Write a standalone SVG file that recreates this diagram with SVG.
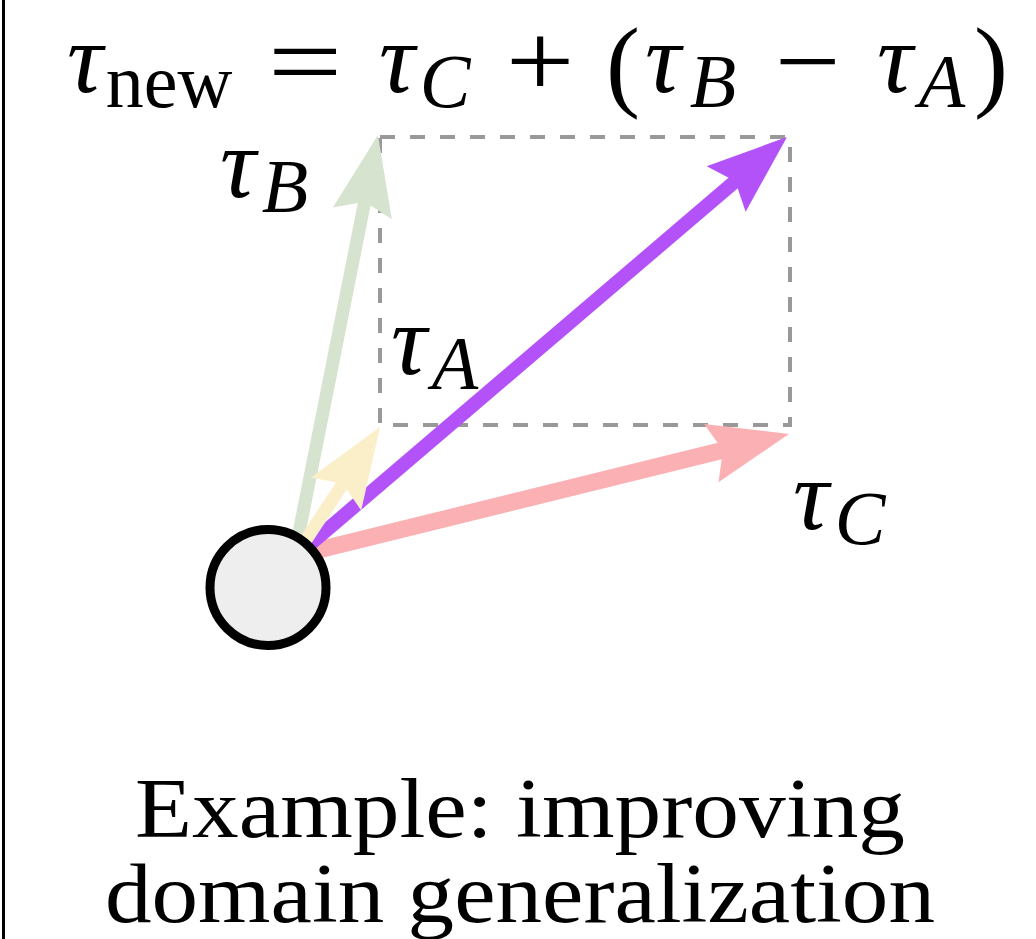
<svg xmlns="http://www.w3.org/2000/svg" width="1036" height="939" viewBox="0 0 1036 939">
<style>
.m{font-family:"Liberation Serif","Times New Roman",serif;fill:#000}
.i{font-style:italic}
.big{font-size:100px}
.op{font-size:106px}
.par{font-size:102px}
.sub{font-size:76px}
.cap{font-size:84px}
.shaft{fill:none;stroke-linecap:butt}
</style>
<defs>
<marker id="hG" markerUnits="userSpaceOnUse" orient="auto" refX="0" refY="0" markerWidth="10" markerHeight="10" overflow="visible"><path d="M66,0 L-14,-30 L-2,0 L-14,30 Z" fill="#d6e4cf"/></marker>
<marker id="hY" markerUnits="userSpaceOnUse" orient="auto" refX="0" refY="0" markerWidth="10" markerHeight="10" overflow="visible"><path d="M66,0 L-14,-30 L-2,0 L-14,30 Z" fill="#faefc9"/></marker>
<marker id="hP" markerUnits="userSpaceOnUse" orient="auto" refX="0" refY="0" markerWidth="10" markerHeight="10" overflow="visible"><path d="M66,0 L-14,-30 L-2,0 L-14,30 Z" fill="#b452fa"/></marker>
<marker id="hR" markerUnits="userSpaceOnUse" orient="auto" refX="0" refY="0" markerWidth="10" markerHeight="10" overflow="visible"><path d="M66,0 L-14,-30 L-2,0 L-14,30 Z" fill="#fbb0b4"/></marker>
</defs>
<rect width="1036" height="939" fill="#fff"/>
<line x1="3.5" y1="0" x2="3.5" y2="939" stroke="#000" stroke-width="3"/>
<g id="formula" class="m">
<text class="big i" x="85" y="92" text-anchor="middle">τ</text>
<text class="sub" x="169" y="107" text-anchor="middle">new</text>
<text class="op" transform="translate(305,97) scale(1.25,1)" x="0" y="0" text-anchor="middle">=</text>
<text class="big i" x="397" y="92" text-anchor="middle">τ</text>
<text class="sub i" x="445" y="107" text-anchor="middle">C</text>
<text class="op" transform="translate(540,97) scale(1.15,1)" x="0" y="0" text-anchor="middle">+</text>
<text class="par" x="623" y="98" text-anchor="middle">(</text>
<text class="big i" x="663" y="92" text-anchor="middle">τ</text>
<text class="sub i" x="713" y="107" text-anchor="middle">B</text>
<text class="op" transform="translate(808,97) scale(1.1,1)" x="0" y="0" text-anchor="middle">−</text>
<text class="big i" x="895" y="92" text-anchor="middle">τ</text>
<text class="sub i" x="942" y="107" text-anchor="middle">A</text>
<text class="par" x="991" y="98" text-anchor="middle">)</text>
</g>
<g id="guide">
<path d="M380,137 L790,137 L790,425 L380,425 Z" fill="none" stroke="#999" stroke-width="4" stroke-dasharray="15 15"/>
</g>
<g id="connectors">
<path id="tauB" class="shaft" d="M294,558 L365.1,199.7" stroke="#d6e4cf" stroke-width="13" marker-end="url(#hG)"/>
<path id="tauC" class="shaft" d="M294,556 L724.9,449.8" stroke="#fbb0b4" stroke-width="17" marker-end="url(#hR)"/>
<path id="tauNew" class="shaft" d="M294,558 L736.8,179.9" stroke="#b452fa" stroke-width="14" marker-end="url(#hP)"/>
<path id="tauA" class="shaft" d="M294,558 L343.8,482.2" stroke="#faefc9" stroke-width="13" marker-end="url(#hY)"/>
</g>
<g id="labelB" class="m">
<text class="big i" x="238" y="197" text-anchor="middle">τ</text>
<text class="sub i" x="285" y="212" text-anchor="middle">B</text>
</g>
<g id="labelA" class="m">
<text class="big i" x="409" y="374" text-anchor="middle">τ</text>
<text class="sub i" x="455" y="389" text-anchor="middle">A</text>
</g>
<g id="labelC" class="m">
<text class="big i" x="811" y="529" text-anchor="middle">τ</text>
<text class="sub i" x="860" y="544" text-anchor="middle">C</text>
</g>
<g id="origin">
<circle cx="268" cy="587.5" r="58" fill="#eeeeee" stroke="#000" stroke-width="9"/>
</g>
<g id="caption" class="m">
<text class="cap" x="520" y="837" text-anchor="middle" textLength="770" lengthAdjust="spacingAndGlyphs">Example: improving</text>
<text class="cap" x="520" y="922" text-anchor="middle" textLength="830" lengthAdjust="spacingAndGlyphs">domain generalization</text>
</g>
</svg>
